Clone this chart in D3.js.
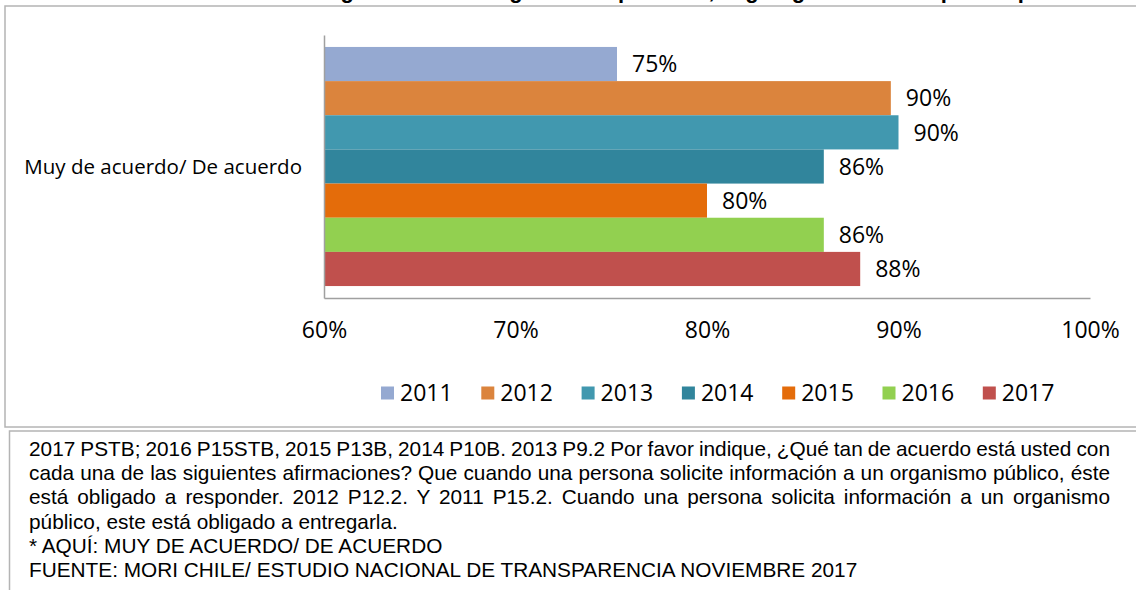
<!DOCTYPE html>
<html>
<head>
<meta charset="utf-8">
<script src="https://d3js.org/d3.v7.min.js"></script>
<style>
  body { margin: 0; background: #fff; }
  svg { display: block; }
</style>
</head>
<body>
<div id="chart"></div>
<script>
// Data
var categories = ["Muy de acuerdo/ De acuerdo"];
var years = ["2011", "2012", "2013", "2014", "2015", "2016", "2017"];
var values = [75.3, 89.6, 90.0, 86.1, 80.0, 86.1, 88.0];
var colors = ["#95a9d1", "#db843d", "#4198af", "#31859c", "#e46c0a", "#92d050", "#c0504d"];
var xTicks = [60, 70, 80, 90, 100];
var titleText = "Grado de acuerdo con la obligación de los organismos públicos, según gestión de respuesta por año";
var noteLines = [
  "2017 PSTB; 2016 P15STB, 2015 P13B, 2014 P10B. 2013 P9.2 Por favor indique, ¿Qué tan de acuerdo está usted con",
  "cada una de las siguientes afirmaciones? Que cuando una persona solicite información a un organismo público, éste",
  "está obligado a responder. 2012 P12.2. Y 2011 P15.2. Cuando una persona solicita información a un organismo",
  "público, este está obligado a entregarla.",
  "* AQUÍ: MUY DE ACUERDO/ DE ACUERDO",
  "FUENTE: MORI CHILE/ ESTUDIO NACIONAL DE TRANSPARENCIA NOVIEMBRE 2017"
];

var svgWidth = 1136;
var svgHeight = 590;

var svg = d3.select("#chart")
  .append("svg")
  .attr("width", svgWidth)
  .attr("height", svgHeight);

// cut-off title at the very top
svg.append("text")
  .attr("x", svgWidth / 2)
  .attr("y", -2.5)
  .attr("text-anchor", "middle")
  .attr("font-family", "Liberation Sans, Arial, sans-serif")
  .attr("font-weight", "bold")
  .attr("font-size", 22)
  .text(titleText);

// chart frame and note frame
svg.append("rect")
  .attr("x", 5).attr("y", 6)
  .attr("width", 1140).attr("height", 421)
  .attr("fill", "none")
  .attr("stroke", "#b4b4b4")
  .attr("stroke-width", 1.5);

svg.append("rect")
  .attr("x", 9.5).attr("y", 431)
  .attr("width", 1140).attr("height", 200)
  .attr("fill", "none")
  .attr("stroke", "#b4b4b4")
  .attr("stroke-width", 1.5);

// scales
var plotLeft = 324, plotRight = 1090, plotTop = 35, plotBottom = 298;

var xScale = d3.scaleLinear()
  .domain([60, 100])
  .range([plotLeft, plotRight]);

var y0 = d3.scaleBand()
  .domain(categories)
  .range([plotTop, plotBottom])
  .paddingInner(0)
  .paddingOuter(0.05);

var y1 = d3.scaleBand()
  .domain(years)
  .range([0, y0.bandwidth()]);

var labelFont = "Open Sans, sans-serif";

// bars
var groups = svg.selectAll(".cat")
  .data(categories)
  .enter()
  .append("g")
  .attr("class", "cat")
  .attr("transform", d => `translate(0, ${y0(d)})`);

groups.selectAll("rect")
  .data(years.map((y, i) => ({ year: y, value: values[i], color: colors[i] })))
  .enter()
  .append("rect")
  .attr("x", xScale(60))
  .attr("y", d => y1(d.year))
  .attr("width", d => xScale(d.value) - xScale(60))
  .attr("height", y1.bandwidth())
  .attr("fill", d => d.color);

groups.selectAll("text.val")
  .data(years.map((y, i) => ({ year: y, value: values[i] })))
  .enter()
  .append("text")
  .attr("class", "val")
  .attr("x", d => xScale(d.value) + 15)
  .attr("y", d => y1(d.year) + y1.bandwidth() / 2)
  .attr("dy", "0.36em")
  .attr("font-family", labelFont)
  .attr("font-size", 23)
  .attr("fill", "#000")
  .text(d => Math.round(d.value) + "%");

// category label
groups.append("text")
  .attr("x", 302)
  .attr("y", y0.bandwidth() / 2)
  .attr("dy", "0.36em")
  .attr("text-anchor", "end")
  .attr("font-family", labelFont)
  .attr("font-size", 20.5)
  .text(d => d);

// axes
var bottomAxis = d3.axisBottom(xScale)
  .tickValues(xTicks)
  .tickSize(0)
  .tickPadding(24)
  .tickFormat(d => d + "%");

var xAxis = svg.append("g")
  .attr("transform", `translate(0, ${plotBottom})`)
  .call(bottomAxis);

xAxis.select(".domain").attr("stroke", "#a0a0a0").attr("stroke-width", 1.5);
xAxis.selectAll("text")
  .attr("font-family", labelFont)
  .attr("font-size", 23)
  .attr("fill", "#000");

var leftAxis = d3.axisLeft(y0).tickSize(0).tickFormat("");
var yAxis = svg.append("g")
  .attr("transform", `translate(${plotLeft}, 0)`)
  .call(leftAxis);
yAxis.select(".domain").attr("stroke", "#a0a0a0").attr("stroke-width", 1.5);

// legend
var legend = svg.append("g")
  .attr("transform", "translate(381, 393)");

var legendItems = legend.selectAll("g")
  .data(years)
  .enter()
  .append("g")
  .attr("transform", (d, i) => `translate(${i * 100.3}, 0)`);

legendItems.append("rect")
  .attr("x", 0).attr("y", -6.5)
  .attr("width", 13).attr("height", 13)
  .attr("fill", (d, i) => colors[i]);

legendItems.append("text")
  .attr("x", 19)
  .attr("y", 0)
  .attr("dy", "0.36em")
  .attr("font-family", labelFont)
  .attr("font-size", 23)
  .text(d => d);

// footnote, first three lines justified
var noteLeft = 29, noteRight = 1110;
var note = svg.append("g");
noteLines.forEach(function(line, i) {
  var t = note.append("text")
    .attr("x", noteLeft)
    .attr("y", 456 + i * 24.2)
    .attr("font-family", "Liberation Sans, Arial, sans-serif")
    .attr("font-size", 20.8)
    .attr("fill", "#000")
    .text(line);
  if (i < 3) {
    var w = t.node().getComputedTextLength();
    var spaces = line.split(" ").length - 1;
    t.attr("word-spacing", (noteRight - noteLeft - w) / spaces);
  }
});
</script>
</body>
</html>
